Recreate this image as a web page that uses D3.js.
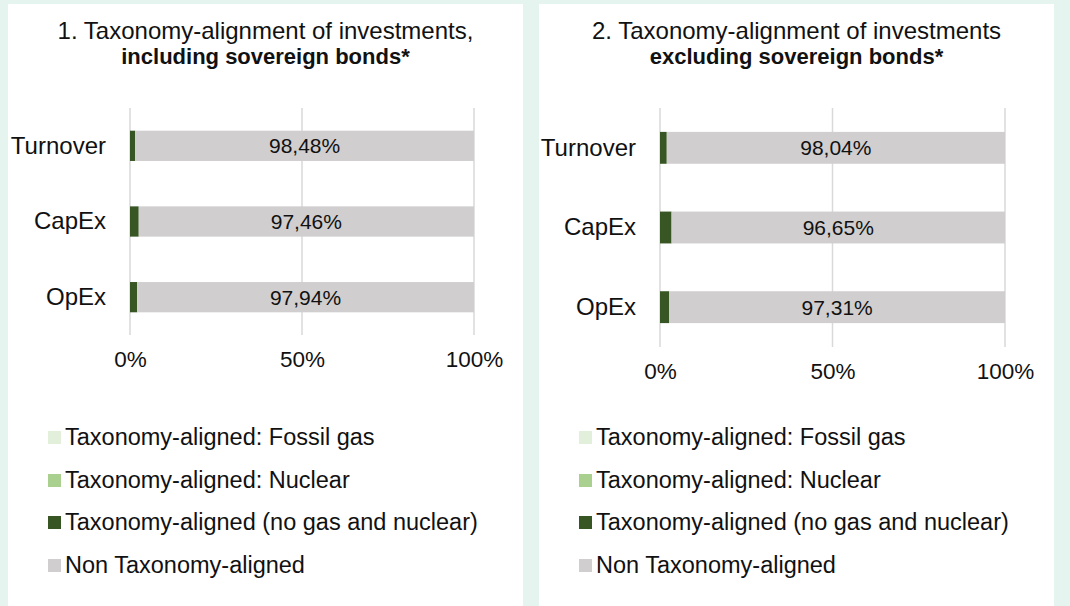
<!DOCTYPE html>
<html>
<head>
<meta charset="utf-8">
<script src="https://cdn.jsdelivr.net/npm/d3@7"></script>
<style>
    body { margin: 0; background: #e5f4ee; }
    svg { display: block; }
    text { font-family: "Liberation Sans", Arial, sans-serif; fill: #111; }
</style>
</head>
<body>
<svg id="chart" width="1070" height="606"></svg>
<script>
// data
const categories = ['Turnover', 'CapEx', 'OpEx'];
const seriesNames = [
    'Taxonomy-aligned: Fossil gas',
    'Taxonomy-aligned: Nuclear',
    'Taxonomy-aligned (no gas and nuclear)',
    'Non Taxonomy-aligned'
];
const seriesColors = ['#e2efda', '#a9d08e', '#375623', '#d0cece'];
const tickValues = [0, 50, 100];

// chart 1: including sovereign bonds
const inclFossilGas = [0, 0, 0];
const inclNuclear = [0, 0, 0];
const inclAligned = [1.52, 2.54, 2.06];
const inclNonAligned = [98.48, 97.46, 97.94];

// chart 2: excluding sovereign bonds
const exclFossilGas = [0, 0, 0];
const exclNuclear = [0, 0, 0];
const exclAligned = [1.96, 3.35, 2.69];
const exclNonAligned = [98.04, 96.65, 97.31];

const svg = d3.select('#chart');

// panel layouts
const panels = [
    {
        x0: 8, x1: 523,
        title: ['1. Taxonomy-alignment of investments,', 'including sovereign bonds*'],
        values: [inclFossilGas, inclNuclear, inclAligned, inclNonAligned],
        left: 130, right: 474, top: 108, bottom: 335,
        legendX: 48
    },
    {
        x0: 539, x1: 1054,
        title: ['2. Taxonomy-alignment of investments', 'excluding sovereign bonds*'],
        values: [exclFossilGas, exclNuclear, exclAligned, exclNonAligned],
        left: 660, right: 1005, top: 108, bottom: 347,
        legendX: 579
    }
];

function toRows(values) {
    return categories.map((cat, i) => {
        const row = { category: cat };
        seriesNames.forEach((name, j) => { row[name] = values[j][i]; });
        return row;
    });
}

function drawPanel(p) {
    const g = svg.append('g');

    // white panel
    g.append('rect')
        .attr('x', p.x0)
        .attr('y', 4)
        .attr('width', p.x1 - p.x0)
        .attr('height', 602)
        .attr('fill', '#fff');

    // title
    const cx = (p.x0 + p.x1) / 2;
    g.append('text')
        .attr('x', cx).attr('y', 39)
        .attr('text-anchor', 'middle')
        .style('font-size', '24px')
        .text(p.title[0]);
    g.append('text')
        .attr('x', cx).attr('y', 64)
        .attr('text-anchor', 'middle')
        .style('font-size', '22px')
        .style('font-weight', 'bold')
        .text(p.title[1]);

    const x = d3.scaleLinear().domain([0, 100]).range([p.left, p.right]);
    const y = d3.scaleBand().domain(categories).range([p.top, p.bottom]).paddingInner(0.6).paddingOuter(0.3);

    // gridlines
    g.selectAll('.grid')
        .data(tickValues)
        .enter()
        .append('line')
        .attr('x1', d => x(d)).attr('x2', d => x(d))
        .attr('y1', p.top).attr('y2', p.bottom)
        .attr('stroke', '#d9d9d9')
        .attr('stroke-width', 1.5);

    // stacked bars
    const stacked = d3.stack().keys(seriesNames)(toRows(p.values));
    stacked.forEach((layer, j) => {
        g.selectAll('.bar' + j)
            .data(layer)
            .enter()
            .append('rect')
            .attr('x', d => x(d[0]))
            .attr('y', d => y(d.data.category))
            .attr('width', d => x(d[1]) - x(d[0]))
            .attr('height', y.bandwidth())
            .attr('fill', seriesColors[j]);
    });

    // data labels on the non aligned part
    const lastLayer = stacked[stacked.length - 1];
    g.selectAll('.label')
        .data(lastLayer)
        .enter()
        .append('text')
        .attr('x', d => (x(d[0]) + x(d[1])) / 2)
        .attr('y', d => y(d.data.category) + y.bandwidth() / 2)
        .attr('dy', '0.35em')
        .attr('text-anchor', 'middle')
        .style('font-size', '21px')
        .text(d => (d[1] - d[0]).toFixed(2).replace('.', ',') + '%');

    // y axis labels
    const yAxis = g.append('g')
        .attr('transform', `translate(${p.left - 10},0)`)
        .call(d3.axisLeft(y).tickSize(0).tickPadding(14));
    yAxis.select('.domain').remove();
    yAxis.selectAll('text').style('font-size', '24px').attr('fill', '#111');

    // x axis labels
    const xAxis = g.append('g')
        .attr('transform', `translate(0,${p.bottom})`)
        .call(d3.axisBottom(x).tickValues(tickValues).tickSize(0).tickPadding(16).tickFormat(d => d + '%'));
    xAxis.select('.domain').remove();
    xAxis.selectAll('text').style('font-size', '22.5px').attr('fill', '#111');

    // legend
    const legendRows = [437, 480, 522, 565];
    seriesNames.forEach((name, j) => {
        g.append('rect')
            .attr('x', p.legendX)
            .attr('y', legendRows[j] - 6)
            .attr('width', 13)
            .attr('height', 13)
            .attr('fill', seriesColors[j]);
        g.append('text')
            .attr('x', p.legendX + 17)
            .attr('y', legendRows[j])
            .attr('dy', '0.35em')
            .style('font-size', '23.5px')
            .text(name);
    });
}

panels.forEach(drawPanel);

// thin mint edge at the right
svg.append('rect')
    .attr('x', 1054).attr('y', 4)
    .attr('width', 16).attr('height', 602)
    .attr('fill', '#e5f4ee');
</script>
</body>
</html>
